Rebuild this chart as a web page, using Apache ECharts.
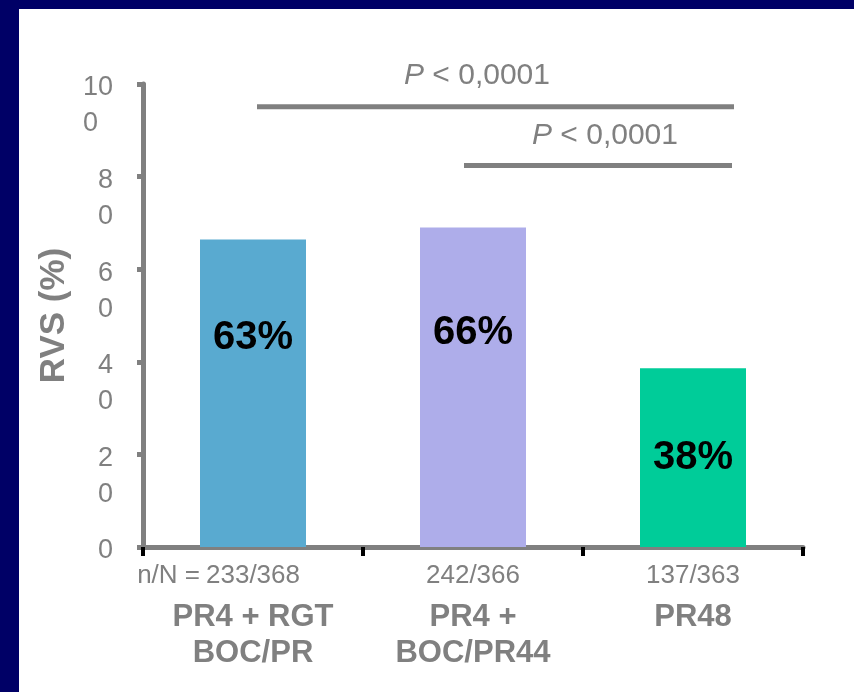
<!DOCTYPE html>
<html>
<head>
<meta charset="utf-8">
<script src="https://cdn.jsdelivr.net/npm/echarts@6/dist/echarts.min.js"></script>
<style>
  html, body { margin: 0; padding: 0; background: #000066; width: 854px; height: 692px; overflow: hidden; }
  #inner { position: absolute; left: 19px; top: 9px; right: 0; bottom: 0; background: #ffffff; }
  #c { position: absolute; left: 0; top: 0; width: 854px; height: 692px; }
</style>
</head>
<body>
<div id="inner"></div>
<div id="c"></div>
<script>
// ---- data ----
const categories = ['PR4 + RGT\nBOC/PR', 'PR4 +\nBOC/PR44', 'PR48'];
const counts = ['233/368', '242/366', '137/363'];
const rvsValues = [66.4, 69.0, 38.6];          // bar heights as drawn
const pctLabels = ['63%', '66%', '38%'];        // printed labels
const yMin = 0, yMax = 100, yStep = 20;
const pTexts = ['P < 0,0001', 'P < 0,0001'];
const bracketLevels = [95.1, 82.4];

// ---- style ----
const GRAY = '#808080';
const FONT = '"Liberation Sans", Arial, Helvetica, sans-serif';
const barColors = ['#59AAD0', '#AEADEA', '#00CC99'];
const labelOffsets = [-55, -54, 0];
const COUNT_FS = 26;

const chart = echarts.init(document.getElementById('c'), null, { renderer: 'canvas' });

const option = {
  animation: false,
  backgroundColor: 'transparent',
  grid: { left: 143, top: 84, width: 660, height: 463, containLabel: false },
  xAxis: {
    type: 'category',
    data: categories,
    axisLine: { show: true, lineStyle: { color: GRAY, width: 5 } },
    axisTick: { show: true, length: 9, alignWithLabel: false, lineStyle: { color: '#000000', width: 4 } },
    splitLine: { show: false },
    axisLabel: {
      interval: 0,
      margin: 6,
      hideOverlap: false,
      formatter: function (v, i) {
        const lines = v.split('\n').map(l => '{c|' + l + '}').join('\n');
        return '{n|' + counts[i] + '}\n' + lines;
      },
      rich: {
        n: { fontSize: COUNT_FS, color: GRAY, lineHeight: 46, fontFamily: FONT },
        c: { fontSize: 31, fontWeight: 'bold', color: GRAY, lineHeight: 36, fontFamily: FONT }
      }
    }
  },
  yAxis: {
    type: 'value',
    min: yMin, max: yMax, interval: yStep,
    splitLine: { show: false },
    axisLine: { show: true, lineStyle: { color: GRAY, width: 5 } },
    axisTick: { show: true, length: 6, lineStyle: { color: GRAY, width: 5 } },
    axisLabel: {
      margin: 30,
      hideOverlap: false,
      verticalAlign: 'top',
      formatter: function (v) {
        const s = String(v);
        if (s.length < 2) return '{a|' + s + '}';
        return '{a|' + s.slice(0, -1) + '}\n{b|' + s.slice(-1) + '}';
      },
      rich: {
        a: { fontSize: 27, lineHeight: 8, fontFamily: FONT, color: GRAY, align: 'left' },
        b: { fontSize: 27, lineHeight: 64, fontFamily: FONT, color: GRAY, align: 'left' }
      }
    },
    name: 'RVS (%)',
    nameLocation: 'middle',
    nameGap: 52,
    nameTextStyle: { fontSize: 35, fontWeight: 'bold', color: GRAY, fontFamily: FONT }
  },
  series: [{
    type: 'bar',
    barWidth: 106,
    data: rvsValues.map((v, i) => ({
      value: v,
      itemStyle: { color: barColors[i] },
      label: { offset: [0, labelOffsets[i]] }
    })),
    label: {
      show: true,
      position: 'inside',
      formatter: p => pctLabels[p.dataIndex],
      fontSize: 40,
      fontWeight: 'bold',
      color: '#000000',
      fontFamily: FONT
    }
  }]
};
chart.setOption(option);

// annotations: significance brackets and n/N prefix
const yb1 = chart.convertToPixel({ yAxisIndex: 0 }, bracketLevels[0]);
const yb2 = chart.convertToPixel({ yAxisIndex: 0 }, bracketLevels[1]);
const y0 = chart.convertToPixel({ yAxisIndex: 0 }, 0);
const cx0 = chart.convertToPixel({ xAxisIndex: 0 }, 0);
function pText(t, x, y) {
  const parts = t.split(' ');
  return {
    type: 'text', x: x, y: y,
    style: {
      text: '{i|' + parts[0] + '} ' + parts.slice(1).join(' '),
      fontSize: 30, fontFamily: FONT, fill: GRAY, align: 'center', verticalAlign: 'middle',
      rich: { i: { fontStyle: 'italic', fontSize: 30, fontFamily: FONT, fill: GRAY } }
    }
  };
}
chart.setOption({
  graphic: [
    { type: 'line', shape: { x1: 257, y1: yb1, x2: 734, y2: yb1 }, style: { stroke: GRAY, lineWidth: 5 } },
    { type: 'line', shape: { x1: 464, y1: yb2, x2: 732, y2: yb2 }, style: { stroke: GRAY, lineWidth: 5 } },
    pText(pTexts[0], 477, yb1 - 31),
    pText(pTexts[1], 605, yb2 - 30),
    { type: 'text', x: cx0 - 47 - 6, y: y0 + 29,
      style: { text: 'n/N =', fontSize: COUNT_FS, fontFamily: FONT, fill: GRAY, align: 'right', verticalAlign: 'middle' } }
  ]
});
</script>
</body>
</html>
